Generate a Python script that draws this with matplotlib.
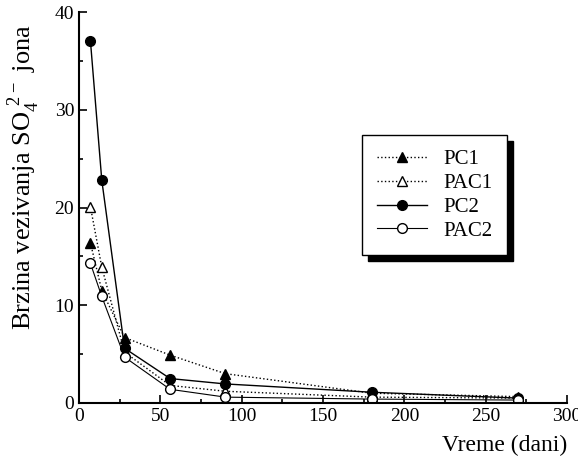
import numpy as np
import matplotlib.pyplot as plt
from matplotlib.ticker import MultipleLocator

plt.rcParams['font.family'] = ['Liberation Serif', 'DejaVu Serif']
plt.rcParams['mathtext.fontset'] = 'custom'
plt.rcParams['mathtext.rm'] = 'Liberation Serif'

# Podaci
dani = [7, 14, 28, 56, 90, 180, 270]
pc1 = [16.4, 11.5, 6.7, 4.9, 3.0, 1.0, 0.65]
pac1 = [20.1, 13.9, 5.2, 1.8, 1.2, 0.6, 0.5]
pc2 = [37.1, 22.8, 5.6, 2.5, 1.95, 1.1, 0.5]
pac2 = [14.3, 10.9, 4.7, 1.4, 0.6, 0.4, 0.3]

fig = plt.figure(figsize=(5.78, 4.68), dpi=100)
ax = fig.add_axes([0.1367, 0.1389, 0.8443, 0.8351])

ax.plot(dani, pc1, ':', color='k', lw=1, marker='^', ms=7, mfc='k', label='PC1')
ax.plot(dani, pac1, ':', color='k', lw=1, marker='^', ms=7, mfc='white', label='PAC1')
ax.plot(dani, pc2, '-', color='k', lw=1, marker='o', ms=7, mfc='k', label='PC2')
ax.plot(dani, pac2, '-', color='k', lw=0.8, marker='o', ms=7, mfc='white', label='PAC2')

ax.set_xlim(0, 300)
ax.set_ylim(0, 40)
ax.xaxis.set_major_locator(MultipleLocator(50))
ax.xaxis.set_minor_locator(MultipleLocator(25))
ax.yaxis.set_major_locator(MultipleLocator(10))
ax.yaxis.set_minor_locator(MultipleLocator(5))
ax.tick_params(which='both', direction='in', labelsize=14, width=1.2)
ax.tick_params(which='major', length=6)
ax.tick_params(which='minor', length=3)
ax.spines['top'].set_visible(False)
ax.spines['right'].set_visible(False)
ax.spines['left'].set_linewidth(1.5)
ax.spines['bottom'].set_linewidth(1.5)

ax.set_ylabel('Brzina vezivanja SO$_4^{\\ 2-}$ jona', fontsize=19)
ax.yaxis.set_label_coords(-0.076, 0.578)
fig.text(0.981, 0.025, 'Vreme (dani)', fontsize=17, ha='right', va='bottom')

leg = ax.legend(loc='upper left', bbox_to_anchor=(0.580, 0.685), fontsize=15,
                frameon=True, fancybox=False, edgecolor='k', handlelength=2.4,
                handletextpad=0.8, borderpad=0.7, labelspacing=0.2,
                borderaxespad=0,
                shadow={'color': 'black', 'alpha': 1, 'ox': 4, 'oy': -4})
leg.get_frame().set_linewidth(1.0)

plt.savefig('out.png', dpi=100)
